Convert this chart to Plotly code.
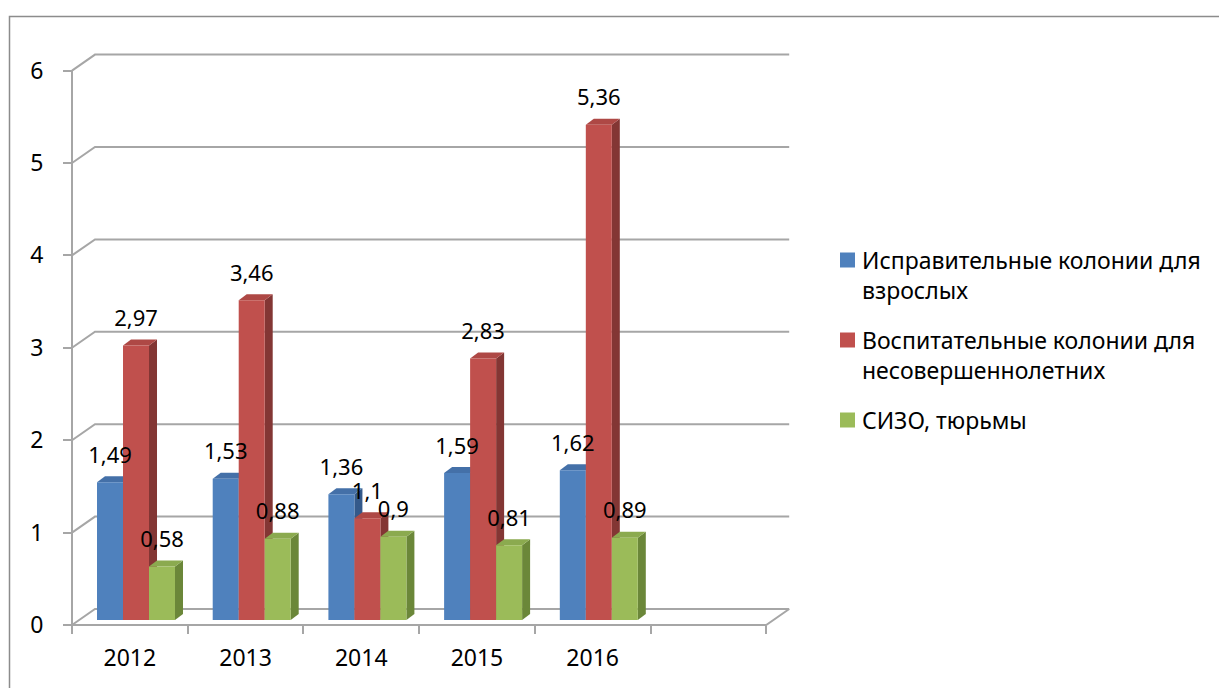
import plotly.graph_objects as go

# ---------------- data ----------------
years = ["2012", "2013", "2014", "2015", "2016"]
series_names = [
    "Исправительные колонии для взрослых",
    "Воспитательные колонии для несовершеннолетних",
    "СИЗО, тюрьмы",
]
legend_lines = [
    ["Исправительные колонии для", "взрослых"],
    ["Воспитательные колонии для", "несовершеннолетних"],
    ["СИЗО, тюрьмы"],
]
adult_colonies = [1.49, 1.53, 1.36, 1.59, 1.62]
juvenile_colonies = [2.97, 3.46, 1.10, 2.83, 5.36]
sizo_prisons = [0.58, 0.88, 0.90, 0.81, 0.89]
y_tick_values = [0, 1, 2, 3, 4, 5, 6]
n_slots = 6  # category slots on the axis (last one is empty)

# ---------------- style ----------------
FONT = "Noto Sans"
front_colors = ["#4F81BD", "#C0504D", "#9BBB59"]
side_colors = ["#34598A", "#833634", "#6B8739"]
top_colors = ["#4470A8", "#AE4845", "#8BAA4F"]
GRID = "#A6A6A6"

W, H = 1219, 688
X0_PX, UX = 72.0, 115.7      # pixel of x=0, pixels per category slot
Y0_PX, UY = 625.0, 92.4      # pixel of y=0, pixels per unit
ML, MR, MT, MB = 60, 418, 48, 54
PW, PH = W - ML - MR, H - MT - MB
x_range = [(ML - X0_PX) / UX, (W - MR - X0_PX) / UX]
y_range = [(Y0_PX - (H - MB)) / UY, (Y0_PX - MT) / UY]


def paper_x(px):
    return (px - ML) / PW


def paper_y(py):
    return (H - MB - py) / PH


# wall depth (oblique projection)
WDX, WDY = 23 / UX, 16 / UY
# bar geometry
BW = 26 / UX
offsets = [0.3285, 0.5532, 0.7779]
BASE = 5 / UY
BDX, BDY = 8 / UX, 6 / UY
LBL_OFF = 25 / UY

series = [adult_colonies, juvenile_colonies, sizo_prisons]

fig = go.Figure()
shapes = []

# back-wall gridlines
for v in y_tick_values:
    shapes.append(dict(
        type="path", xref="x", yref="y", layer="below",
        path=f"M 0,{v} L {WDX},{v + WDY} L {n_slots + WDX},{v + WDY}",
        line=dict(color=GRID, width=2)))
# front floor edge
shapes.append(dict(
    type="path", xref="x", yref="y", layer="below",
    path=f"M 0,0 L {n_slots},0 L {n_slots + WDX},{WDY}",
    line=dict(color=GRID, width=2)))
# front value axis line
shapes.append(dict(
    type="line", xref="x", yref="y", layer="below",
    x0=0, x1=0, y0=0, y1=max(y_tick_values),
    line=dict(color=GRID, width=2)))

# 3D side and top faces
for i in range(len(years)):
    for s, vals in enumerate(series):
        xc = i + offsets[s]
        xl, xr = xc - BW / 2, xc + BW / 2
        b, t = BASE, BASE + vals[i]
        shapes.append(dict(
            type="path", xref="x", yref="y", layer="below",
            path=f"M {xr},{b} L {xr + BDX},{b + BDY} L {xr + BDX},{t + BDY} L {xr},{t} Z",
            fillcolor=side_colors[s], line=dict(width=0)))
        shapes.append(dict(
            type="path", xref="x", yref="y", layer="below",
            path=f"M {xl},{t} L {xl + BDX},{t + BDY} L {xr + BDX},{t + BDY} L {xr},{t} Z",
            fillcolor=top_colors[s], line=dict(width=0)))

# front faces
for s, vals in enumerate(series):
    fig.add_trace(go.Bar(
        x=[i + offsets[s] for i in range(len(years))],
        y=vals, base=BASE, width=BW, name=series_names[s],
        marker=dict(color=front_colors[s], line=dict(width=0)),
        showlegend=False, hoverinfo="y+name"))

# data labels
for s, vals in enumerate(series):
    fig.add_trace(go.Scatter(
        x=[i + offsets[s] for i in range(len(years))],
        y=[BASE + v + LBL_OFF for v in vals],
        mode="text", text=[f"{v:g}".replace(".", ",") for v in vals],
        textposition="middle center",
        textfont=dict(family=FONT, size=22, color="black"),
        cliponaxis=False, showlegend=False, hoverinfo="skip"))

# manual legend
annotations = []
legend_centers = [260, 340, 420]
for s, lines in enumerate(legend_lines):
    cy = legend_centers[s]
    shapes.append(dict(
        type="rect", xref="paper", yref="paper",
        x0=paper_x(840), x1=paper_x(855), y0=paper_y(cy + 7.5), y1=paper_y(cy - 7.5),
        fillcolor=front_colors[s], line=dict(width=0)))
    for k, line in enumerate(lines):
        annotations.append(dict(
            xref="paper", yref="paper", x=paper_x(860), y=paper_y(cy + k * 29.5),
            xanchor="left", yanchor="middle", text=line, showarrow=False,
            font=dict(family=FONT, size=23, color="black")))

# outer chart border
shapes.append(dict(
    type="rect", xref="paper", yref="paper",
    x0=paper_x(9.5), x1=paper_x(1260), y0=paper_y(730), y1=paper_y(16.5),
    line=dict(color="#8C8C8C", width=1.5), fillcolor="rgba(0,0,0,0)"))

fig.update_layout(
    width=W, height=H,
    margin=dict(l=ML, r=MR, t=MT, b=MB, pad=0),
    paper_bgcolor="white", plot_bgcolor="white",
    barmode="overlay", showlegend=False,
    font=dict(family=FONT, size=23, color="black"),
    shapes=shapes, annotations=annotations,
    xaxis=dict(
        range=x_range, anchor="free", position=paper_y(Y0_PX),
        tickmode="array", tickvals=[i + 0.5 for i in range(len(years))], ticktext=years,
        ticks="", showgrid=False, zeroline=False, showline=False,
        ticklabelstandoff=17, automargin=False,
        tickfont=dict(family=FONT, size=23, color="black"),
        minor=dict(tickmode="linear", tick0=0, dtick=1, ticks="outside",
                   ticklen=8, tickwidth=2, tickcolor=GRID, showgrid=False)),
    yaxis=dict(
        range=y_range, anchor="free", position=paper_x(X0_PX),
        tickmode="array", tickvals=y_tick_values,
        ticktext=[str(v) for v in y_tick_values],
        ticks="outside", ticklen=9, tickwidth=2, tickcolor=GRID,
        showgrid=False, zeroline=False, showline=False,
        ticklabelstandoff=15, automargin=False,
        tickfont=dict(family=FONT, size=23, color="black")),
)

fig.write_html(
    "out.html",
    config={"displayModeBar": False},
    post_script="document.body.style.margin='0';document.body.style.overflow='hidden';",
)
